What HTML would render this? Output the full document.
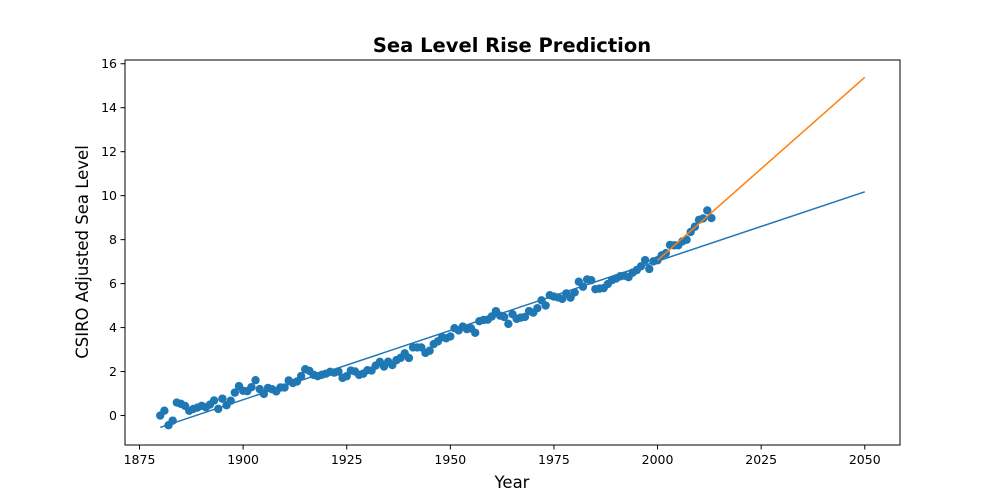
<!DOCTYPE html>
<html><head><meta charset="utf-8"><style>
html,body{margin:0;padding:0;background:#fff;width:1000px;height:500px;overflow:hidden}
svg{display:block;font-family:"DejaVu Sans","Liberation Sans",sans-serif}
</style></head><body>
<svg id="chart" width="1000" height="500" viewBox="0 0 1000 500" xmlns="http://www.w3.org/2000/svg">
<text x="512" y="52" text-anchor="middle" font-size="19.5" font-weight="bold">Sea Level Rise Prediction</text>
<text x="512" y="488" text-anchor="middle" font-size="16.5">Year</text>
<text transform="translate(88,252) rotate(-90)" text-anchor="middle" font-size="16.5">CSIRO Adjusted Sea Level</text>
<g id="plot"></g>
</svg>
<script>
const years = [];
for (let y = 1880; y <= 2013; y++) years.push(y);
const levels = [0,0.220472,-0.440945,-0.232283,0.590551,0.531496,0.437008,0.216535,0.299213,0.362205,0.440945,0.374016,0.5,0.685039,0.30315,0.767717,0.468504,0.673228,1.043307,1.338583,1.125984,1.110236,1.291339,1.606299,1.200787,0.984252,1.251969,1.19685,1.098425,1.275591,1.271654,1.598425,1.476378,1.547244,1.795276,2.106299,2.031496,1.854331,1.791339,1.854331,1.905512,1.988189,1.952756,1.999999,1.712598,1.791339,2.047244,2.003937,1.850393,1.905512,2.062992,2.047244,2.271653,2.440944,2.228346,2.448818,2.295276,2.519684,2.622047,2.826771,2.61811,3.098425,3.098425,3.098425,2.846456,2.947244,3.251968,3.374015,3.562992,3.51181,3.598424,3.97244,3.870078,4.043306,3.929133,3.964566,3.763779,4.291338,4.346456,4.358267,4.503936,4.748031,4.543306,4.480314,4.169291,4.610236,4.397637,4.452755,4.484251,4.751968,4.677164,4.881889,5.240157,5.003936,5.47244,5.409448,5.370078,5.303149,5.555118,5.362204,5.598424,6.086614,5.858267,6.188976,6.153543,5.748031,5.771653,5.795275,5.980314,6.15748,6.232283,6.334645,6.358267,6.291338,6.499999,6.61811,6.787401,7.066928,6.665354,7.011811,7.062992,7.287401,7.381889,7.759842,7.740157,7.744094,7.917322,7.996062,8.350393,8.586614,8.901574,8.964567,9.326772,8.980315];
const xTicks = [1875,1900,1925,1950,1975,2000,2025,2050];
const yTicks = [0,2,4,6,8,10,12,14,16];
const NS = "http://www.w3.org/2000/svg";
const L=125,R=900,T=60,B=445;
const xMin=1871.5,xMax=2058.5,yMin=-1.34,yMax=16.17;
const X=v=>L+(v-xMin)/(xMax-xMin)*(R-L);
const Y=v=>B-(v-yMin)/(yMax-yMin)*(B-T);
const g=document.getElementById('plot');
function mk(t,a){const e=document.createElementNS(NS,t);for(const k in a)e.setAttribute(k,a[k]);g.appendChild(e);return e;}
function fit(xs,ys){const n=xs.length;let mx=0,my=0;for(let i=0;i<n;i++){mx+=xs[i];my+=ys[i];}mx/=n;my/=n;let sxy=0,sxx=0;for(let i=0;i<n;i++){sxy+=(xs[i]-mx)*(ys[i]-my);sxx+=(xs[i]-mx)**2;}const s=sxy/sxx;return [s,my-s*mx];}
for(let i=0;i<years.length;i++){
 const c=mk('circle',{cx:X(years[i]),cy:Y(levels[i]),r:4.2,fill:'#1f77b4'});
 
 
}
const f1=fit(years,levels);
const l1=mk('line',{x1:X(1880),y1:Y(f1[0]*1880+f1[1]),x2:X(2050),y2:Y(f1[0]*2050+f1[1]),stroke:'#1f77b4','stroke-width':1.5});


const iy=years.indexOf(2000);
const f2=fit(years.slice(iy),levels.slice(iy));
const l2=mk('line',{x1:X(2000),y1:Y(f2[0]*2000+f2[1]),x2:X(2050),y2:Y(f2[0]*2050+f2[1]),stroke:'#ff7f0e','stroke-width':1.5});


const fr=mk('rect',{x:L,y:T,width:R-L,height:B-T,fill:'none',stroke:'#000','stroke-width':1});


xTicks.forEach(v=>{
 mk('line',{x1:X(v),x2:X(v),y1:B,y2:B+4.5,stroke:'#000'});
 const t=mk('text',{x:X(v),y:B+19,'text-anchor':'middle','font-size':12.5});
 t.textContent=v;
 
 
});
yTicks.forEach(v=>{
 mk('line',{x1:L-4.5,x2:L,y1:Y(v),y2:Y(v),stroke:'#000'});
 const t=mk('text',{x:L-8,y:Y(v)+4.5,'text-anchor':'end','font-size':12.5});
 t.textContent=v;
 
 
});
</script>
</body></html>
